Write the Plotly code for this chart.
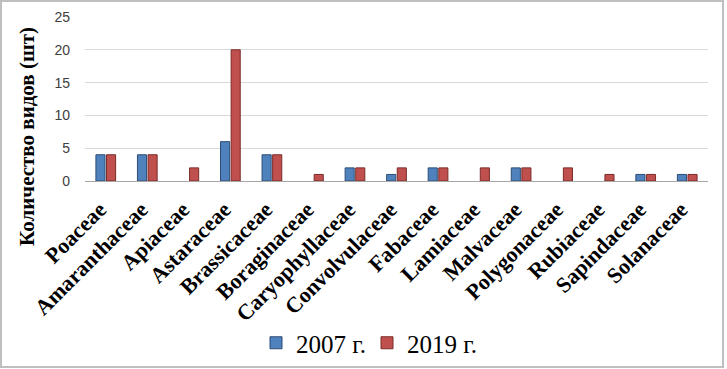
import plotly.graph_objects as go

families = ["Poaceae", "Amaranthaceae", "Apiaceae", "Astaraceae", "Brassicaceae",
            "Boraginaceae", "Caryophyllaceae", "Convolvulaceae", "Fabaceae", "Lamiaceae",
            "Malvaceae", "Polygonaceae", "Rubiaceae", "Sapindaceae", "Solanaceae"]
v2007 = [4, 4, 0, 6, 4, 0, 2, 1, 2, 0, 2, 0, 0, 1, 1]
v2019 = [4, 4, 2, 20, 4, 1, 2, 2, 2, 2, 2, 2, 1, 1, 1]
yticks = [0, 5, 10, 15, 20, 25]

W, H = 727, 369
L, R, T, B = 85, 708, 17, 181

def px_x(p):
    return (p - L) / (R - L)

def px_y(p):
    return (B - p) / (B - T)

fig = go.Figure()
fig.add_trace(go.Bar(x=families, y=v2007, name="2007 г.",
                     marker=dict(color="#4F81BD",
                                 line=dict(color="#2C4D75", width=[1 if v else 0 for v in v2007]))))
fig.add_trace(go.Bar(x=families, y=v2019, name="2019 г.",
                     marker=dict(color="#C0504D",
                                 line=dict(color="#7B2B29", width=[1 if v else 0 for v in v2019]))))

fig.update_layout(
    width=W, height=H,
    margin=dict(l=L, r=W - R, t=T, b=H - B, autoexpand=False),
    paper_bgcolor="white", plot_bgcolor="white",
    barmode="group", bargap=0.49, bargroupgap=0.14,
    showlegend=True,
    legend=dict(orientation="h", x=px_x(256), xanchor="left", y=px_y(343), yanchor="middle",
                font=dict(family="Liberation Serif", size=25, color="black"),
                itemwidth=30, traceorder="normal", tracegroupgap=0,
                entrywidth=66, entrywidthmode="pixels"),
    xaxis=dict(tickangle=-45, tickfont=dict(family="Liberation Serif", size=22, color="black", weight="bold"),
               showline=True, linecolor="#A6A6A6", linewidth=1, showgrid=False, ticks="",
               automargin=False, ticklabelshift=-6, ticklabelstandoff=6),
    yaxis=dict(range=[0, 25], tickvals=yticks, tickfont=dict(family="Liberation Sans", size=14, color="#404040"),
               showgrid=True, gridcolor="#D9D9D9", gridwidth=1, zeroline=False, showline=False,
               ticks="", ticklabelstandoff=14, automargin=False),
    annotations=[dict(text="<b>Количество видов (шт)</b>", textangle=-90, xref="paper", yref="paper",
                      x=px_x(27), y=px_y(137), showarrow=False, xanchor="center", yanchor="middle",
                      font=dict(family="Liberation Serif", size=21, color="black"))],
    shapes=[dict(type="rect", xref="paper", yref="paper",
                 x0=px_x(1), x1=px_x(723), y0=px_y(1), y1=px_y(367),
                 line=dict(color="#BFBFBF", width=2), layer="below")],
)

fig.write_html("out.html", config={"displayModeBar": False},
               post_script="document.body.style.margin='0';")
